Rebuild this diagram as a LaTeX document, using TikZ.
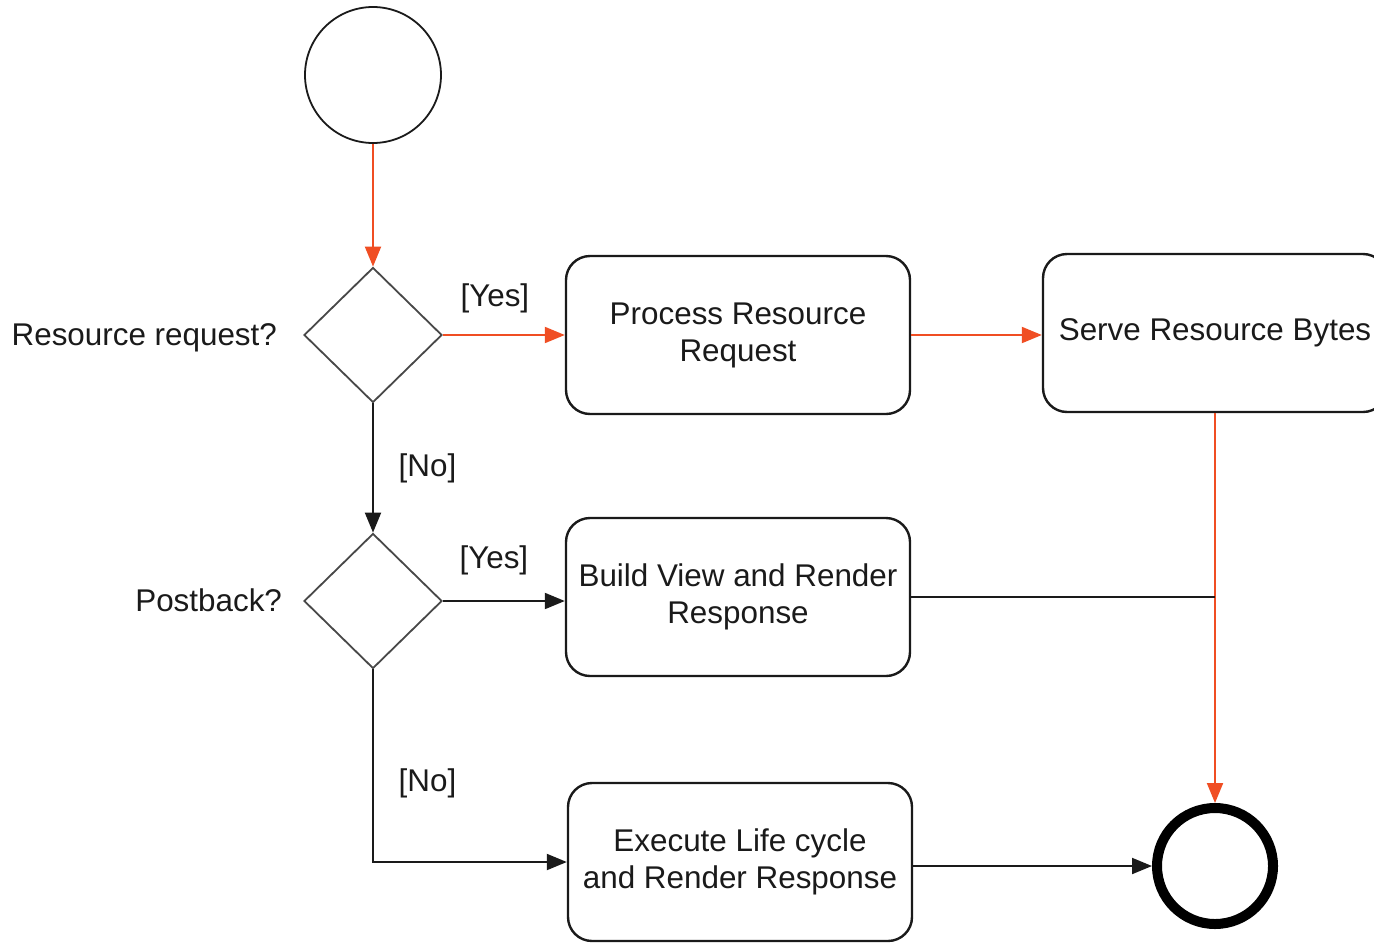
\documentclass[tikz,border=0pt]{standalone}
\usepackage{fontspec}
\setmainfont{Liberation Sans}
\usetikzlibrary{shapes.geometric,arrows.meta}
\definecolor{FlowRed}{HTML}{F04E23}
\definecolor{LineInk}{HTML}{1A1A1A}
\tikzset{
  activity/.style={draw=LineInk,line width=1.2pt,rounded corners=12pt,minimum width=172pt,minimum height=79pt,align=center,inner sep=0pt},
  decision/.style={draw=LineInk!80,line width=0.9pt,diamond,aspect=1,minimum width=69pt,minimum height=67.5pt,inner sep=0pt},
  flow/.style={line width=1pt,-{Triangle[length=10pt,width=8pt]}},
  guard/.style={font=\fontsize{15.7}{18.5}\selectfont}
}
\begin{document}
\begin{tikzpicture}[x=0.5pt,y=-0.5pt,every node/.style={text=LineInk,font=\fontsize{15.7}{18.5}\selectfont}]
\useasboundingbox (0,0) rectangle (1374,942);
\fill[white] (0,0) rectangle (1374,942);
% nodes
\node[draw=LineInk,line width=0.9pt,circle,minimum size=68pt,inner sep=0pt] (start) at (373,75) {};
\node[decision] (res) at (373,335) {};
\node[decision] (post) at (373,601) {};
\node[activity] (process) at (738,335) {Process Resource\\Request};
\node[activity] (serve) at (1215,333) {Serve Resource Bytes};
\node[activity] (build) at (738,597) {Build View and Render\\Response};
\node[activity] (exec) at (740,862) {Execute Life cycle\\and Render Response};
\node[draw=black,line width=5pt,circle,minimum size=58pt,inner sep=0pt] (stop) at (1215,866) {};
\node[anchor=east] (resq) at (284,338) {Resource request?};
\node[anchor=east] (postq) at (289,600) {Postback?};
\coordinate (join) at (serve.south |- build.east);
% connectors
\draw[flow,FlowRed] (start) -- (res);
\draw[flow,FlowRed] (res.east) -- (process.west |- res.east) node[guard,midway,above=7pt,xshift=-4.5pt] {[Yes]};
\draw[flow,FlowRed] (process.east) -- (serve.west |- process.east);
\draw[flow,FlowRed] (serve.south) -- (stop.north);
\draw[flow,LineInk] (res.south) -- (post.north) node[guard,midway,right=9pt] {[No]};
\draw[flow,LineInk] (post.east) -- (build.west |- post.east) node[guard,midway,above=9pt,xshift=-5pt] {[Yes]};
\draw[flow,LineInk] (post.south) |- (exec.west) node[guard,pos=0.3,right=9pt,yshift=1pt] {[No]};
\draw[line width=1pt,LineInk] (build.east) -- (join);
\draw[flow,LineInk] (exec.east |- stop.west) -- (stop.west);
\end{tikzpicture}
\end{document}
